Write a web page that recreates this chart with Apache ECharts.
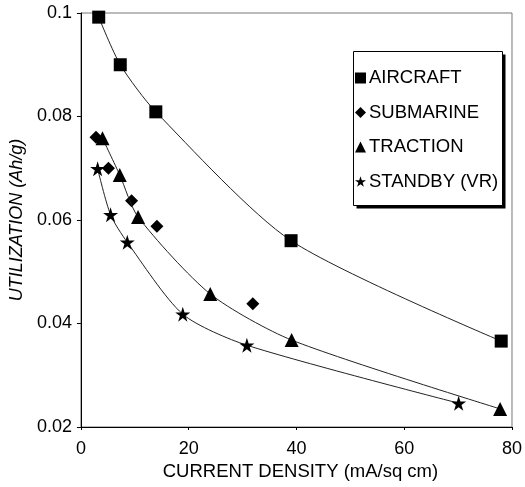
<!DOCTYPE html>
<html>
<head>
<meta charset="utf-8">
<script src="https://cdn.jsdelivr.net/npm/echarts@6/dist/echarts.min.js"></script>
<style>html,body{margin:0;padding:0;background:#fff}#c{width:525px;height:487px}</style>
</head>
<body>
<div id="c"></div>
<script>
const seriesNames = ['AIRCRAFT', 'SUBMARINE', 'TRACTION', 'STANDBY (VR)'];
const aircraft = [[3.3, 0.0992], [7.3, 0.0900], [13.9, 0.0809], [39.0, 0.0560], [78.0, 0.0366]];
const submarine = [[2.8, 0.0760], [5.1, 0.0700], [9.4, 0.0637], [14.1, 0.0588], [31.9, 0.0438]];
const traction = [[4.0, 0.0758], [7.2, 0.0687], [10.6, 0.0606], [24.0, 0.0457], [39.1, 0.0368], [77.8, 0.0235]];
const standby = [[3.1, 0.0699], [5.5, 0.0610], [8.6, 0.0557], [18.9, 0.0418], [30.8, 0.0358], [70.1, 0.0246]];
const xTicks = [0, 20, 40, 60, 80];
const yTicks = [0.02, 0.04, 0.06, 0.08, 0.1];

const STAR = 'path://M50 0 L61.2 34.6 L97.6 34.5 L68.1 55.9 L79.4 90.5 L50 69 L20.6 90.5 L31.9 55.9 L2.4 34.5 L38.8 34.6 Z';
const FONT = '"Liberation Sans", Arial, sans-serif';

const chart = echarts.init(document.getElementById('c'), null, {renderer: 'canvas'});
chart.setOption({
  backgroundColor: '#fff',
  animation: false,
  grid: {left: 80, top: 13, right: 9, bottom: 60, show: true, borderColor: '#777', borderWidth: 1, backgroundColor: 'transparent'},
  graphic: [
    {type: 'rect', z: 5, shape: {x: 356.5, y: 54.5, width: 149, height: 154}, style: {fill: '#000'}},
    {type: 'rect', z: 6, shape: {x: 353.5, y: 51.5, width: 149, height: 154}, style: {fill: '#fff', stroke: '#000', lineWidth: 1}}
  ],
  xAxis: {
    type: 'value', min: xTicks[0], max: xTicks[xTicks.length - 1], interval: 20,
    name: 'CURRENT DENSITY (mA/sq cm)', nameLocation: 'middle', nameGap: 30,
    nameTextStyle: {fontFamily: FONT, fontSize: 18.5, color: '#000', padding: [0, 0, 0, 8]},
    axisLine: {lineStyle: {color: '#000', width: 1}},
    axisTick: {show: true, inside: false, length: 3, lineStyle: {color: '#000'}},
    axisLabel: {fontFamily: FONT, fontSize: 18, color: '#000', margin: 13},
    splitLine: {show: false}
  },
  yAxis: {
    type: 'value', min: yTicks[0], max: yTicks[yTicks.length - 1], interval: 0.02,
    name: 'UTILIZATION (Ah/g)', nameLocation: 'middle', nameGap: 50,
    nameTextStyle: {fontFamily: FONT, fontSize: 18, color: '#000', fontStyle: 'italic'},
    axisLine: {show: true, lineStyle: {color: '#000', width: 1}},
    axisTick: {show: true, inside: false, length: 4, lineStyle: {color: '#000'}},
    axisLabel: {fontFamily: FONT, fontSize: 18, color: '#000', margin: 9,
      formatter: v => String(Math.round(v * 100) / 100)},
    splitLine: {show: false}
  },
  legend: {
    z: 10,
    orient: 'vertical', left: 353, top: 51,
    padding: [17, 0, 16, 2], itemGap: 14.5, itemWidth: 11, itemHeight: 11,
    backgroundColor: 'transparent', borderWidth: 0,
    textStyle: {fontFamily: FONT, fontSize: 18.5, color: '#000', lineHeight: 20, padding: [0, 0, 0, -2]},
    data: [
      {name: seriesNames[0], icon: 'rect'},
      {name: seriesNames[1], icon: 'diamond'},
      {name: seriesNames[2], icon: 'triangle'},
      {name: seriesNames[3], icon: STAR}
    ]
  },
  series: [
    {name: seriesNames[0], type: 'line', data: aircraft, smooth: 0.25, symbol: 'rect', symbolSize: 13,
      itemStyle: {color: '#000'}, lineStyle: {color: '#222', width: 1}},
    {name: seriesNames[1], type: 'scatter', data: submarine, symbol: 'diamond', symbolSize: 13,
      itemStyle: {color: '#000', opacity: 1}},
    {name: seriesNames[2], type: 'line', data: traction, smooth: 0.25, symbol: 'triangle', symbolSize: 14,
      itemStyle: {color: '#000'}, lineStyle: {color: '#222', width: 1}},
    {name: seriesNames[3], type: 'line', data: standby, smooth: 0.25, symbol: STAR, symbolSize: 15,
      itemStyle: {color: '#000'}, lineStyle: {color: '#222', width: 1}}
  ]
});
</script>
</body>
</html>
